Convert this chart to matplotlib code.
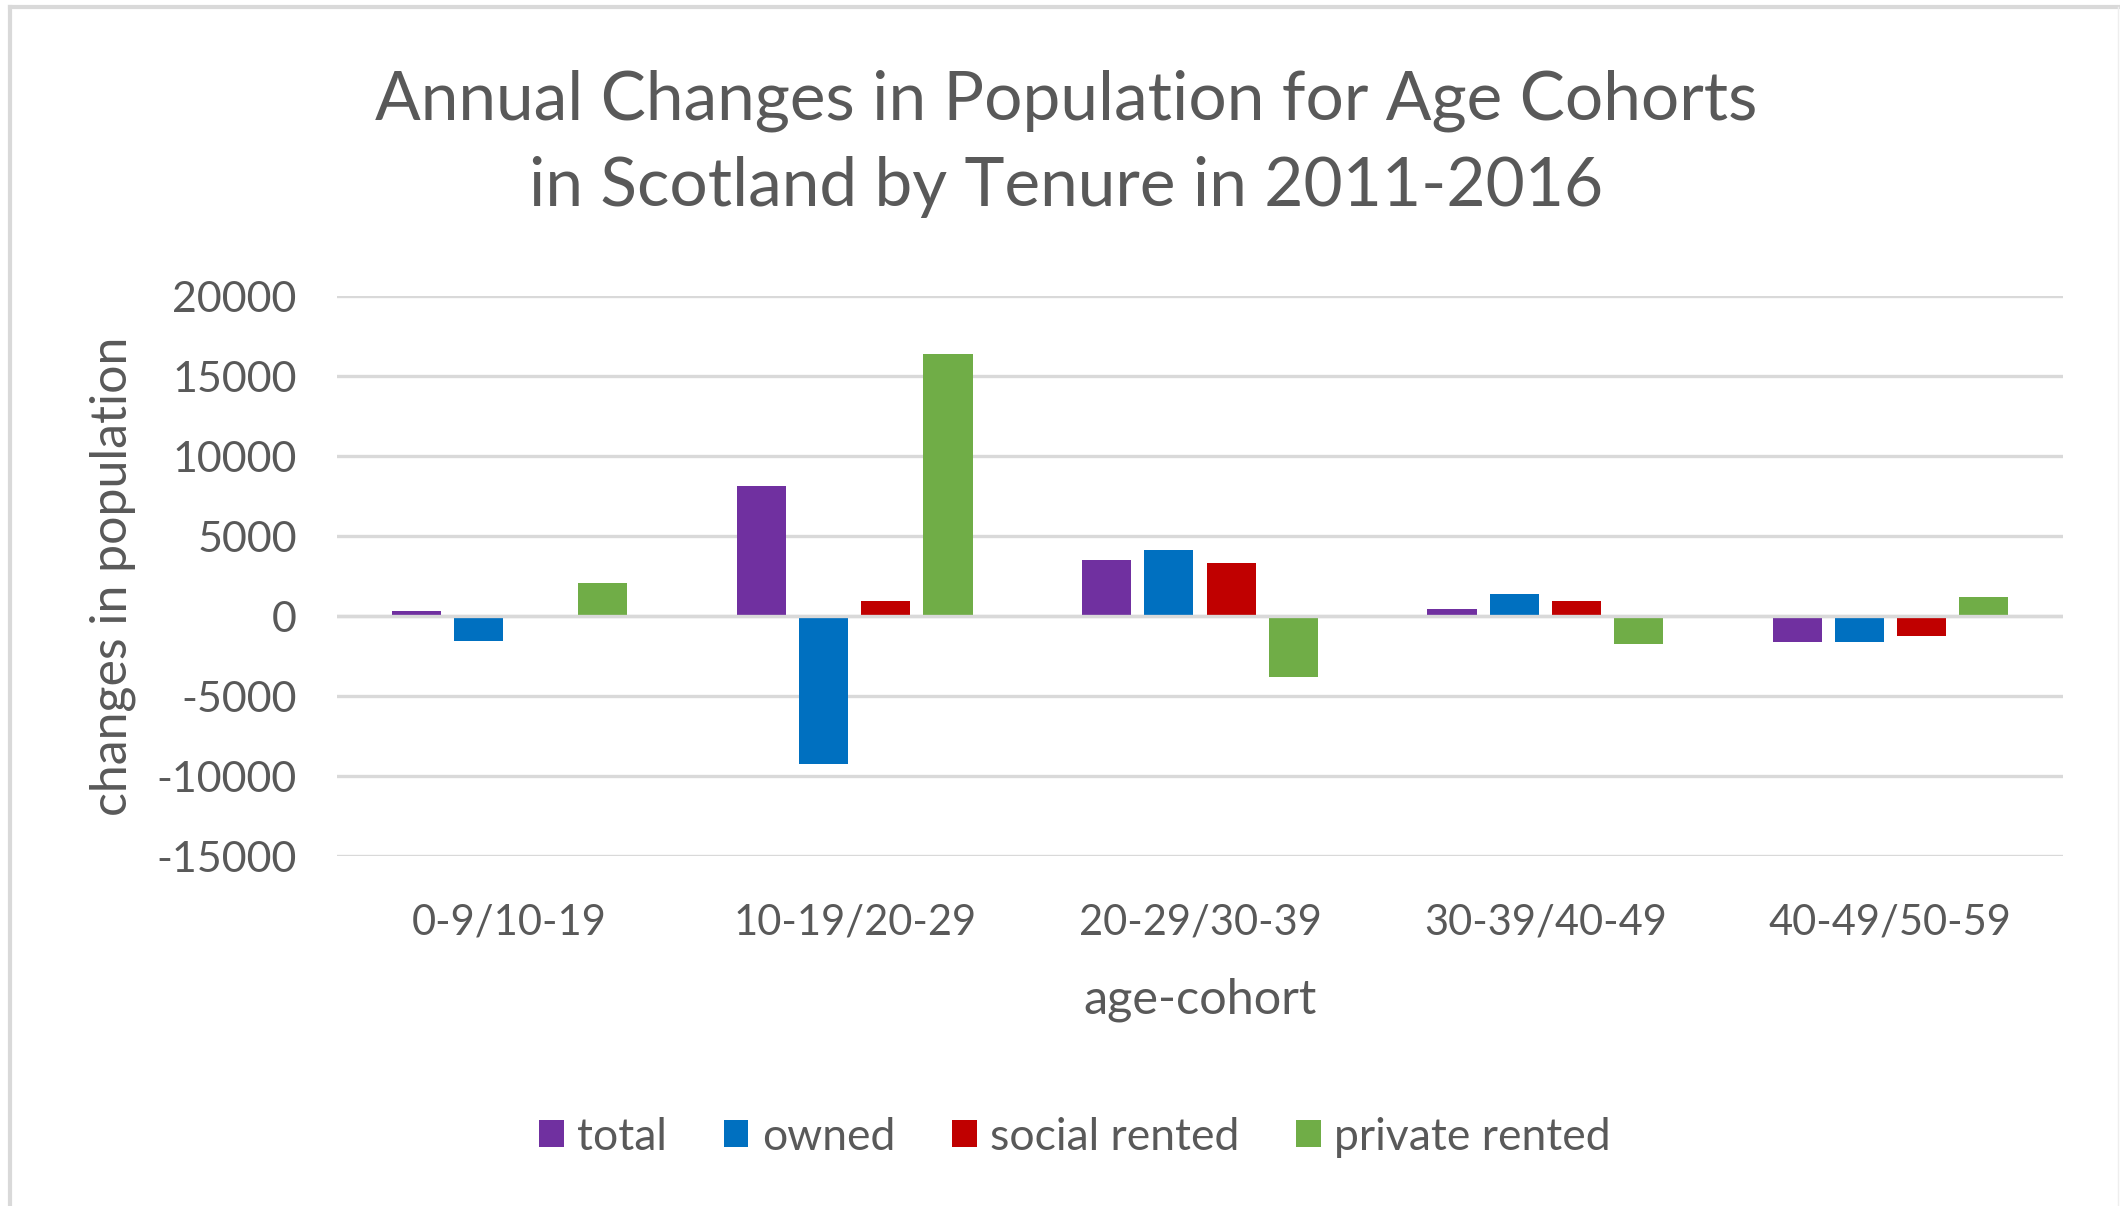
import matplotlib
matplotlib.use("Agg")
import matplotlib.pyplot as plt
from matplotlib.lines import Line2D
from matplotlib.patches import Patch
import numpy as np

plt.rcParams['font.family'] = ['Lato', 'DejaVu Sans']

categories = ["0-9/10-19", "10-19/20-29", "20-29/30-39", "30-39/40-49", "40-49/50-59"]
series_names = ["total", "owned", "social rented", "private rented"]
total = [300, 8100, 3500, 450, -1600]
owned = [-1550, -9250, 4100, 1350, -1600]
social_rented = [0, 950, 3300, 950, -1250]
private_rented = [2050, 16400, -3800, -1750, 1200]
yticks = [-15000, -10000, -5000, 0, 5000, 10000, 15000, 20000]
colors = ["#7030A0", "#0070C0", "#C00000", "#70AD47"]

txt = "#595959"
W, H = 2120, 1206
fig = plt.figure(figsize=(W / 100, H / 100), dpi=100)
fig.patch.set_facecolor("white")

ax = fig.add_axes([337 / W, 1 - 856 / H, (2063 - 337) / W, (856 - 296) / H])
x = np.arange(len(categories))
pitch = 0.18
width = 0.142
series = [total, owned, social_rented, private_rented]
for i, (vals, c) in enumerate(zip(series, colors)):
    ax.bar(x + (i - 1.5) * pitch, vals, width=width, color=c, zorder=2)

ax.set_xlim(-0.5, len(categories) - 0.5)
ax.set_ylim(-15000, 20000)
ax.set_yticks(yticks)
ax.set_yticklabels([str(v) for v in yticks])
ax.set_xticks(x)
ax.set_xticklabels(categories)
ax.grid(axis="y", color="#d9d9d9", linewidth=2.4, zorder=0)
ax.axhline(0, color="#d9d9d9", linewidth=2.4, zorder=3)
for s in ax.spines.values():
    s.set_visible(False)
ax.tick_params(axis="y", length=0, labelsize=31, colors=txt, pad=29)
ax.tick_params(axis="x", length=0, labelsize=30, colors=txt, pad=34)
ax.set_xlabel("age-cohort", fontsize=35, color=txt, labelpad=26)
ax.set_ylabel("changes in population", fontsize=36, color=txt, labelpad=15)

fig.text(1066 / W, 1 - 101 / H, "Annual Changes in Population for Age Cohorts",
         ha="center", va="center", fontsize=48.7, color=txt)
fig.text(1066 / W, 1 - 187 / H, "in Scotland by Tenure in 2011-2016",
         ha="center", va="center", fontsize=48.7, color=txt)

handles = [Patch(facecolor=c, edgecolor="none") for c in colors]
leg = fig.legend(handles, series_names, loc="center", bbox_to_anchor=(1075 / W, 1 - 1137 / H),
                 ncol=4, frameon=False, fontsize=32, labelcolor=txt,
                 handlelength=0.55, handleheight=0.55, handletextpad=0.3, columnspacing=1.28)

# outer chart border
fig.add_artist(Line2D([10 / W, 1], [1 - 7 / H, 1 - 7 / H], color="#d9d9d9", linewidth=3, transform=fig.transFigure))
fig.add_artist(Line2D([10 / W, 10 / W], [0, 1 - 7 / H], color="#d9d9d9", linewidth=3, transform=fig.transFigure))
fig.add_artist(Line2D([2118 / W, 2118 / W], [0, 1 - 7 / H], color="#eeeeee", linewidth=1, transform=fig.transFigure))

fig.savefig("out.png", dpi=100, facecolor="white")
